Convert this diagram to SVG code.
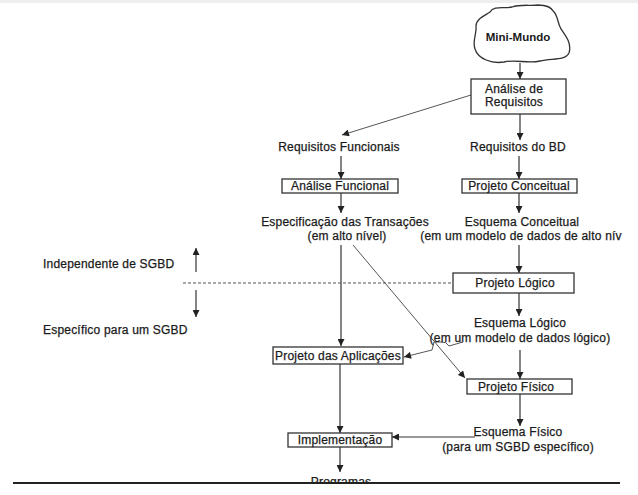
<svg xmlns="http://www.w3.org/2000/svg" width="638" height="495" viewBox="0 0 638 495">
  <style>
    .bg { fill: #ffffff; }
    .box { fill: #ffffff; stroke: #333333; stroke-width: 1.3; }
    .edge { fill: none; stroke: #333333; stroke-width: 1.2; }
    .thin { fill: none; stroke: #555555; stroke-width: 1; }
    .dash { fill: none; stroke: #555555; stroke-width: 1; stroke-dasharray: 3 2; }
    text { font-family: "Liberation Sans", Arial, sans-serif; font-size: 12px; fill: #1a1a1a; stroke: #1a1a1a; stroke-width: 0.25; letter-spacing: 0.2px; }
    .c { text-anchor: middle; }
    .b { font-weight: bold; font-size: 11.5px; letter-spacing: 0; stroke-width: 0; }
  </style>
  <defs>
    <marker id="arrow" viewBox="0 0 10 10" refX="10" refY="5" markerWidth="8" markerHeight="7" markerUnits="userSpaceOnUse" orient="auto">
      <path d="M0,0 L10,5 L0,10 Z" fill="#222222"/>
    </marker>
    <clipPath id="aboveRule">
      <rect x="0" y="0" width="638" height="482"/>
    </clipPath>
  </defs>

  <rect class="bg" x="0" y="0" width="638" height="495"/>
  <rect x="0" y="0" width="638" height="3" fill="#eeeeee"/>

  <!-- connectors -->
  <g id="connectors">
    <line class="edge" x1="520" y1="63" x2="520" y2="79" marker-end="url(#arrow)"/>
    <line class="thin" x1="471" y1="95" x2="342" y2="135" marker-end="url(#arrow)"/>
    <line class="edge" x1="520" y1="114" x2="520" y2="140" marker-end="url(#arrow)"/>
    <line class="edge" x1="341" y1="156" x2="341" y2="179" marker-end="url(#arrow)"/>
    <line class="edge" x1="519" y1="156" x2="519" y2="179" marker-end="url(#arrow)"/>
    <line class="edge" x1="341" y1="193" x2="341" y2="213" marker-end="url(#arrow)"/>
    <line class="edge" x1="519" y1="193" x2="519" y2="213" marker-end="url(#arrow)"/>
    <line class="edge" x1="519" y1="245" x2="519" y2="273" marker-end="url(#arrow)"/>
    <line class="edge" x1="519" y1="293" x2="519" y2="316" marker-end="url(#arrow)"/>
    <line class="edge" x1="341" y1="245" x2="341" y2="346" marker-end="url(#arrow)"/>
    <line class="thin" x1="353" y1="245" x2="465" y2="378" marker-end="url(#arrow)"/>
    <path class="thin" d="M463,342 L449,346 Q446,341 441,342 L434,342 L432,350 L404,357" marker-end="url(#arrow)"/>
    <line class="edge" x1="520" y1="350" x2="520" y2="379" marker-end="url(#arrow)"/>
    <line class="edge" x1="520" y1="394" x2="520" y2="426" marker-end="url(#arrow)"/>
    <line class="edge" x1="475" y1="437" x2="392" y2="437" marker-end="url(#arrow)"/>
    <line class="edge" x1="340" y1="364" x2="340" y2="433" marker-end="url(#arrow)"/>
    <line class="edge" x1="340" y1="447" x2="340" y2="472" marker-end="url(#arrow)"/>
    <!-- DBMS boundary -->
    <line class="dash" x1="183" y1="283" x2="453" y2="283"/>
    <line class="edge" x1="196" y1="272" x2="196" y2="248" marker-end="url(#arrow)"/>
    <line class="edge" x1="196" y1="290" x2="196" y2="317" marker-end="url(#arrow)"/>
  </g>

  <!-- nodes -->
  <g id="mini-mundo">
    <path class="box" d="M490,12 C494,5 504,9 512,7 C520,4 530,6 538,5 C546,5 552,8 554,12 C558,16 557,22 561,29 C566,36 572,44 569,53 C565,61 552,58 540,61 C528,64 516,59 504,62 C492,64 478,59 475,49 C472,41 477,34 476,26 C476,19 484,16 490,12 Z"/>
    <text class="c b" x="518" y="41">Mini-Mundo</text>
  </g>
  <g id="analise-requisitos">
    <rect class="box" x="471" y="79" width="95" height="35"/>
    <text x="485" y="93">Análise de</text>
    <text x="485" y="106">Requisitos</text>
  </g>
  <g id="requisitos-funcionais">
    <text class="c" x="339" y="151">Requisitos Funcionais</text>
  </g>
  <g id="requisitos-bd">
    <text class="c" x="518" y="151">Requisitos do BD</text>
  </g>
  <g id="analise-funcional">
    <rect class="box" x="282" y="179" width="116" height="14"/>
    <text class="c" x="340" y="190">Análise Funcional</text>
  </g>
  <g id="projeto-conceitual">
    <rect class="box" x="462" y="179" width="115" height="14"/>
    <text class="c" x="519" y="190">Projeto Conceitual</text>
  </g>
  <g id="especificacao">
    <text class="c" x="345" y="226">Especificação das Transações</text>
    <text class="c" x="347" y="240">(em alto nível)</text>
  </g>
  <g id="esquema-conceitual">
    <text class="c" x="522" y="226">Esquema Conceitual</text>
    <text class="c" x="521" y="240">(em um modelo de dados de alto nív</text>
  </g>
  <g id="independente">
    <text x="43" y="268">Independente de SGBD</text>
  </g>
  <g id="especifico">
    <text x="43" y="334">Específico para um SGBD</text>
  </g>
  <g id="projeto-logico">
    <rect class="box" x="453" y="273" width="121" height="20"/>
    <text class="c" x="515" y="287">Projeto Lógico</text>
  </g>
  <g id="esquema-logico">
    <text class="c" x="520" y="327">Esquema Lógico</text>
    <text class="c" x="520" y="342">(em um modelo de dados lógico)</text>
  </g>
  <g id="projeto-aplicacoes">
    <rect class="box" x="273" y="347" width="130" height="17"/>
    <text class="c" x="338" y="360">Projeto das Aplicações</text>
  </g>
  <g id="projeto-fisico">
    <rect class="box" x="467" y="379" width="105" height="15"/>
    <text class="c" x="516" y="391">Projeto Físico</text>
  </g>
  <g id="esquema-fisico">
    <text class="c" x="518" y="436">Esquema Físico</text>
    <text class="c" x="518" y="451">(para um SGBD específico)</text>
  </g>
  <g id="implementacao">
    <rect class="box" x="288" y="433" width="104" height="14"/>
    <text class="c" x="340" y="444">Implementação</text>
  </g>
  <g id="programas">
    <text class="c" x="341" y="486" clip-path="url(#aboveRule)">Programas</text>
  </g>

  <line x1="13" y1="483" x2="620" y2="483" stroke="#222222" stroke-width="1.8"/>
</svg>
